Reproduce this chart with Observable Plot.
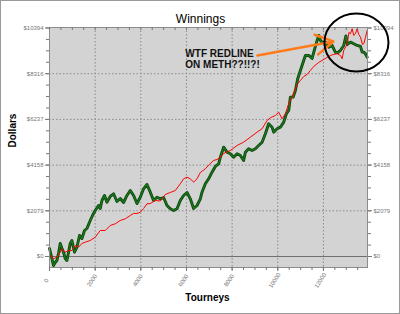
<!DOCTYPE html>
<html><head><meta charset="utf-8">
<script src="https://cdn.jsdelivr.net/npm/d3@7"></script>
<script src="https://cdn.jsdelivr.net/npm/@observablehq/plot@0.6"></script>
<style>
html,body{margin:0;padding:0;background:#fff;}
#wrap{position:relative;width:400px;height:314px;}
#border{position:absolute;left:0;top:0;width:400px;height:314px;box-sizing:border-box;border:1px solid #9a9a9a;pointer-events:none;}
</style></head><body><div id="wrap"><div id="border"></div></div>
<script>
// ---- data ----
const greenTourney = [0,75,175,250,324,403,469,544,614,688,763,833,907,982,1039,1096,1201,1315,1420,1534,1640,1784,1885,2003,2148,2223,2297,2411,2516,2661,2806,2955,3100,3244,3393,3538,3683,3832,3976,4121,4270,4415,4559,4708,4853,4998,5147,5292,5436,5585,5730,5875,6024,6168,6313,6462,6607,6681,6826,6971,7120,7264,7409,7484,7628,7777,7922,8067,8216,8361,8505,8580,8724,8873,9018,9163,9312,9456,9601,9750,9820,9969,10114,10259,10377,10478,10552,10671,10772,10872,10991,11135,11210,11355,11504,11574,11723,11793,11868,11942,12087,12231,12380,12525,12643,12744,12889,12986,13052,13183,13327,13476,13621,13696,13766,13840,13915];
const greenDollars = [364,46,-410,-273,-182,182,592,378,196,-91,-182,182,592,728,455,196,423,956,819,1183,1274,1638,1866,2093,2321,2184,2548,2776,2471,2730,2853,2503,2639,2457,2776,3003,2776,2412,2698,3080,3276,2926,2548,2698,2625,2685,2321,2170,2093,2170,2548,2776,2912,2625,2184,2321,2625,2926,3308,3535,3836,4095,4218,4518,4973,4746,4673,4518,4673,4596,4368,4746,4900,4823,4900,5051,5201,5583,6038,5883,5656,5810,5883,6111,6493,6643,7248,7248,7553,8085,8463,8918,9146,9146,9009,9282,9828,10056,9828,9751,9751,9523,9601,9282,9282,9373,9601,10033,9646,9751,9678,9601,9555,9296,9296,9223,9068];
const redTourney = [31,175,294,395,544,688,833,982,1127,1271,1420,1565,1784,2003,2223,2442,2661,2880,3100,3319,3538,3683,3832,3976,4121,4270,4415,4634,4853,5072,5292,5511,5730,5875,6024,6168,6313,6462,6607,6826,7045,7190,7339,7484,7628,7922,8216,8505,8799,9093,9312,9531,9676,9895,10039,10189,10333,10478,10627,10772,10872,10991,11135,11285,11429,11574,11793,12012,12161,12306,12451,12599,12744,12819,12889,13038,13117,13183,13258,13327,13402,13476,13546,13621,13709,13766,13840,13915];
const redDollars = [46,-105,-46,46,350,196,273,273,501,423,592,651,728,878,1183,1183,1411,1488,1638,1715,1866,1957,1957,2016,2184,2398,2412,2548,2525,2821,2912,3003,3308,3535,3608,3535,3381,3535,3822,3990,4232,4368,4414,4505,4687,4823,5051,5201,5428,5656,5810,6188,6311,6416,6566,6265,6493,6948,7248,7630,7858,8008,8190,8281,8463,8645,8827,8964,9055,9146,9191,9223,9146,8995,9373,9646,10192,10133,10360,10056,10133,10360,10101,9978,9646,9678,9965,10283];

const xTicks = [0,2000,4000,6000,8000,10000,12000];
const yTicks = [0,2079,4158,6237,8316,10394];
const xDomain = [0,13930];
const yDomain = [-500,10417];

const titleText = "Winnings";
const xLabel = "Tourneys";
const yLabel = "Dollars";
const noteText = "WTF REDLINE\nON METH??!!?!";
const note = [{t: 5950, d: 8980}];
const arrowData = [{t1: 9106, d1: 9146, t2: 12437, d2: 9783}];
const circleData = [{t: 13446, d: 9737}];

// ---- derived tables ----
const green = greenTourney.map((t,i)=>({t, d: greenDollars[i]}));
const red = redTourney.map((t,i)=>({t, d: redDollars[i]}));
const subdivide = (ticks, n, max) => {
  const step = (ticks[1]-ticks[0])/n, out = [];
  for (let v = ticks[0]; v <= max; v += step) out.push(v);
  return out;
};
const xMinor = subdivide(xTicks, 4, xDomain[1]);
const yMinor = subdivide(yTicks, 4, yDomain[1]);

const ellipseSymbol = {
  draw(ctx, size) {
    const r = Math.sqrt(size/Math.PI), rx = r*1.05, ry = r*0.95, k = 0.5523;
    ctx.moveTo(rx,0);
    ctx.bezierCurveTo(rx, ry*k, rx*k, ry, 0, ry);
    ctx.bezierCurveTo(-rx*k, ry, -rx, ry*k, -rx, 0);
    ctx.bezierCurveTo(-rx, -ry*k, -rx*k, -ry, 0, -ry);
    ctx.bezierCurveTo(rx*k, -ry, rx, -ry*k, rx, 0);
    ctx.closePath();
  }
};

const tickColor = "#777";
const chart = Plot.plot({
  width: 400, height: 314,
  marginLeft: 49, marginRight: 33, marginTop: 27, marginBottom: 47,
  style: {fontFamily: "'Liberation Sans', Arial, sans-serif", background: "transparent", overflow: "visible"},
  x: {domain: xDomain},
  y: {domain: yDomain},
  marks: [
    Plot.frame({fill: "#d3d3d3"}),
    Plot.gridX(xTicks.slice(1), {stroke: "#8a8a8a", strokeOpacity: 1, strokeDasharray: "1.5,2"}),
    Plot.gridY(yTicks.slice(1, -1), {stroke: "#8a8a8a", strokeOpacity: 1, strokeDasharray: "1.5,2"}),
    Plot.ruleY([0], {stroke: "#707070", strokeWidth: 1}),
    Plot.line(green, {x: "t", y: "d", stroke: "#0d450d", strokeWidth: 2.9, strokeLinejoin: "round"}),
    Plot.line(green, {x: "t", y: "d", stroke: "#1b7a1d", strokeWidth: 1.2, strokeLinejoin: "round"}),
    Plot.line(red, {x: "t", y: "d", stroke: "#ff0000", strokeWidth: 1}),
    Plot.frame({stroke: "#8c8c8c"}),
    // axes
    Plot.axisY(yTicks, {anchor: "left", tickSize: 4, tickPadding: 2, fontSize: 6, color: tickColor, tickFormat: d => "$" + d, label: null}),
    Plot.axisY(yTicks, {anchor: "right", tickSize: 4, tickPadding: 2, fontSize: 6, color: tickColor, tickFormat: d => "$" + d, label: null}),
    Plot.axisY(yMinor, {anchor: "left", tickSize: 3, stroke: tickColor, fill: "none", label: null}),
    Plot.axisY(yMinor, {anchor: "right", tickSize: 3, stroke: tickColor, fill: "none", label: null}),
    Plot.axisX(xMinor, {anchor: "bottom", tickSize: 3, stroke: tickColor, fill: "none", label: null}),
    Plot.axisX(xTicks, {anchor: "bottom", tickSize: 4, stroke: tickColor, fill: "none", label: null}),
    Plot.ruleX(xMinor, {insetBottom: 237, stroke: tickColor}),
    Plot.text(xTicks, {x: d => d, frameAnchor: "bottom", dy: 14, dx: -1.5, rotate: -57, fontSize: 6, fill: tickColor, text: d => String(d)}),
    // titles
    Plot.text([titleText], {frameAnchor: "top", dx: -8, dy: -13, fontSize: 12, fill: "#000", text: d => d}),
    Plot.text([xLabel], {frameAnchor: "bottom", dx: -1, dy: 33, fontSize: 10, fontWeight: "bold", fill: "#000", text: d => d}),
    Plot.text([yLabel], {frameAnchor: "left", dx: -37, rotate: -90, fontSize: 10, fontWeight: "bold", fill: "#000", text: d => d}),
    // annotation
    Plot.text(note, {x: "t", y: "d", text: () => noteText, textAnchor: "start", lineAnchor: "middle", lineHeight: 1.12, fontSize: 10, fontWeight: "bold", fill: "#111"}),
    Plot.arrow(arrowData, {x1: "t1", y1: "d1", x2: "t2", y2: "d2", stroke: "#ff7a1a", strokeWidth: 2.5, headLength: 12}),
    Plot.dot(circleData, {x: "t", y: "d", r: 30.5, symbol: ellipseSymbol, stroke: "#000", strokeWidth: 2, fill: "none"})
  ]
});
document.getElementById("wrap").insertBefore(chart, document.getElementById("border"));
</script>
</body></html>
